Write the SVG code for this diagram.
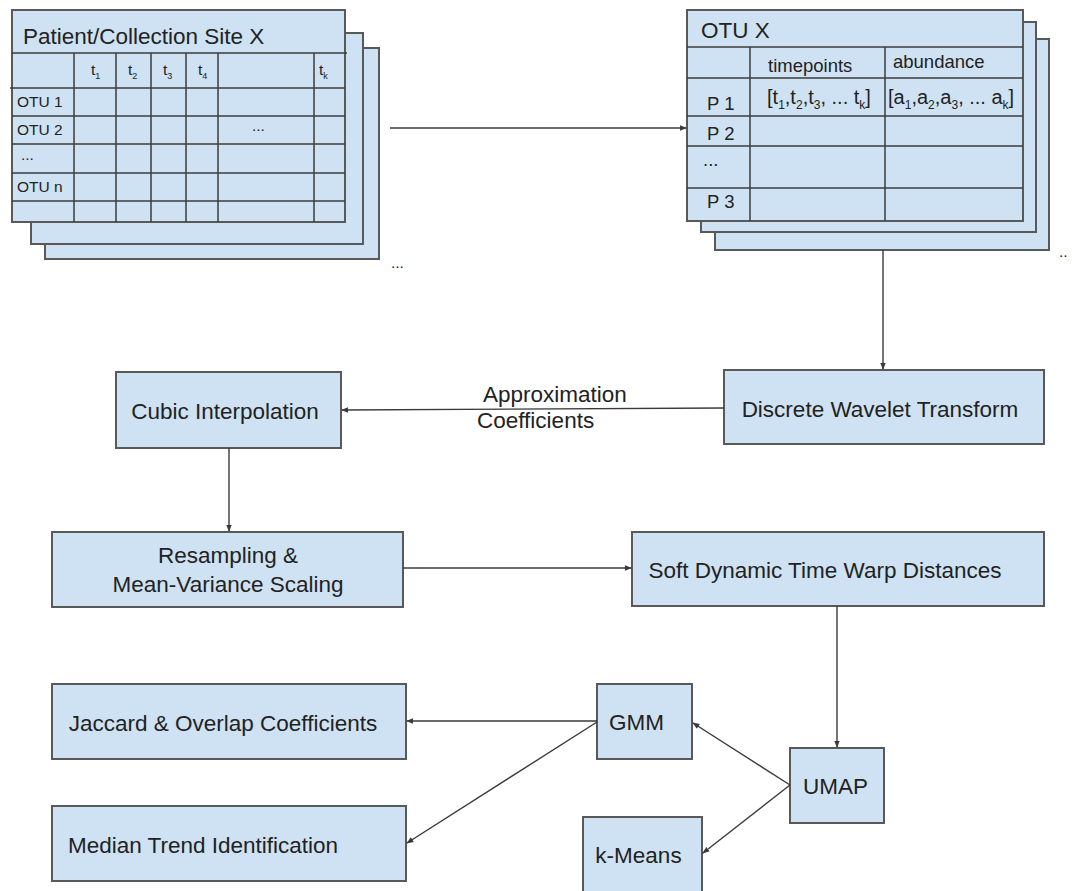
<svg xmlns="http://www.w3.org/2000/svg" width="1073" height="891" viewBox="0 0 1073 891">
  <style>
    .box { fill: #cfe2f3; stroke: #595959; stroke-width: 2; }
    .grid { stroke: #3c3c3c; stroke-width: 1.5; fill: none; }
    .lbl { font-family: "Liberation Sans", Arial, sans-serif; font-size: 22.5px; fill: #222; }
    .cell { font-family: "Liberation Sans", Arial, sans-serif; font-size: 15.5px; fill: #222; }
    .cell2 { font-family: "Liberation Sans", Arial, sans-serif; font-size: 18.5px; fill: #222; }
    .seq { font-family: "Liberation Sans", Arial, sans-serif; font-size: 20px; fill: #222; }
    .sub { font-size: 9px; }
    .sub2 { font-size: 12px; }
    .mid { text-anchor: middle; }
    .edge { stroke: #3a3a3a; stroke-width: 1.4; fill: none; marker-end: url(#arrow); }
  </style>
  <defs>
    <marker id="arrow" viewBox="0 0 10 10" refX="9" refY="5" markerWidth="7" markerHeight="7" markerUnits="userSpaceOnUse" orient="auto">
      <path d="M0,1 L10,5 L0,9 z" fill="#3a3a3a"/>
    </marker>
  </defs>
  <rect width="1073" height="891" fill="#ffffff"/>

  <!-- Patient / collection site table stack -->
  <g id="site-table">
    <rect class="box" x="45" y="48" width="334" height="211"/>
    <rect class="box" x="31" y="33" width="332" height="211"/>
    <rect class="box" x="12" y="10" width="333" height="212"/>
    <text class="lbl" x="23" y="44">Patient/Collection Site X</text>
    <path class="grid" d="M12,53 H347 M10,88 H345 M12,116 H345 M12,144 H345 M12,173 H345 M12,201 H345"/>
    <path class="grid" d="M74,53 V222 M116,53 V222 M151,53 V222 M186,53 V222 M218,53 V222 M314,53 V222"/>
    <text class="cell" x="91" y="75">t<tspan class="sub" dy="4">1</tspan></text>
    <text class="cell" x="128" y="75">t<tspan class="sub" dy="4">2</tspan></text>
    <text class="cell" x="163" y="75">t<tspan class="sub" dy="4">3</tspan></text>
    <text class="cell" x="198" y="75">t<tspan class="sub" dy="4">4</tspan></text>
    <text class="cell" x="319" y="75">t<tspan class="sub" dy="4">k</tspan></text>
    <text class="cell" x="17" y="107">OTU 1</text>
    <text class="cell" x="17" y="135">OTU 2</text>
    <text class="cell" x="21" y="160">...</text>
    <text class="cell" x="17" y="192">OTU n</text>
    <text class="cell" x="252" y="131">...</text>
  </g>
  <text class="cell" x="391" y="268">...</text>

  <!-- Per-OTU table stack -->
  <g id="otu-table">
    <rect class="box" x="715" y="39" width="334" height="211"/>
    <rect class="box" x="701" y="22" width="335" height="210"/>
    <rect class="box" x="687" y="10" width="336" height="211"/>
    <text class="lbl" x="701" y="38">OTU X</text>
    <path class="grid" d="M687,47 H1023 M687,78 H1023 M687,116 H1023 M687,146 H1023 M687,188 H1023"/>
    <path class="grid" d="M750,47 V221 M885,47 V221"/>
    <text class="cell2" x="768" y="72">timepoints</text>
    <text class="cell2" x="893" y="68">abundance</text>
    <text class="cell2" x="707" y="110">P 1</text>
    <text class="cell2" x="707" y="140">P 2</text>
    <text class="cell2" x="703" y="166">...</text>
    <text class="cell2" x="707" y="208">P 3</text>
    <text class="seq" x="767" y="104">[t<tspan class="sub2" dy="5">1</tspan><tspan dy="-5">,t</tspan><tspan class="sub2" dy="5">2</tspan><tspan dy="-5">,t</tspan><tspan class="sub2" dy="5">3</tspan><tspan dy="-5">, ... t</tspan><tspan class="sub2" dy="5">k</tspan><tspan dy="-5">]</tspan></text>
    <text class="seq" x="888" y="104">[a<tspan class="sub2" dy="5">1</tspan><tspan dy="-5">,a</tspan><tspan class="sub2" dy="5">2</tspan><tspan dy="-5">,a</tspan><tspan class="sub2" dy="5">3</tspan><tspan dy="-5">, ... a</tspan><tspan class="sub2" dy="5">k</tspan><tspan dy="-5">]</tspan></text>
  </g>
  <text class="cell" x="1059" y="257">..</text>

  <!-- Processing steps -->
  <g id="cubic">
    <rect class="box" x="116" y="372" width="225" height="76"/>
    <text class="lbl mid" x="225" y="419">Cubic Interpolation</text>
  </g>
  <g id="dwt">
    <rect class="box" x="724" y="370" width="320" height="74"/>
    <text class="lbl mid" x="880" y="417">Discrete Wavelet Transform</text>
  </g>
  <g id="resampling">
    <rect class="box" x="52" y="532" width="351" height="75"/>
    <text class="lbl mid" x="228" y="563">Resampling &amp;</text>
    <text class="lbl mid" x="228" y="592">Mean-Variance Scaling</text>
  </g>
  <g id="softdtw">
    <rect class="box" x="632" y="532" width="412" height="74"/>
    <text class="lbl mid" x="825" y="578">Soft Dynamic Time Warp Distances</text>
  </g>
  <g id="jaccard">
    <rect class="box" x="52" y="684" width="354" height="75"/>
    <text class="lbl mid" x="223" y="731">Jaccard &amp; Overlap Coefficients</text>
  </g>
  <g id="median">
    <rect class="box" x="52" y="806" width="354" height="75"/>
    <text class="lbl mid" x="203" y="853">Median Trend Identification</text>
  </g>
  <g id="gmm">
    <rect class="box" x="597" y="684" width="95" height="75"/>
    <text class="lbl mid" x="636.5" y="730">GMM</text>
  </g>
  <g id="umap">
    <rect class="box" x="790" y="748" width="94" height="75"/>
    <text class="lbl mid" x="835.5" y="794">UMAP</text>
  </g>
  <g id="kmeans">
    <rect class="box" x="583" y="817" width="119" height="90"/>
    <text class="lbl mid" x="638.5" y="863">k-Means</text>
  </g>

  <!-- Connectors -->
  <g id="connectors">
    <line class="edge" x1="390" y1="128" x2="686" y2="128"/>
    <line class="edge" x1="883" y1="250" x2="883" y2="369"/>
    <line class="edge" x1="724" y1="408" x2="342" y2="410"/>
    <line class="edge" x1="229" y1="448" x2="229" y2="531"/>
    <line class="edge" x1="403" y1="568" x2="631" y2="568"/>
    <line class="edge" x1="837" y1="606" x2="837" y2="747"/>
    <line class="edge" x1="790" y1="785" x2="693" y2="723"/>
    <line class="edge" x1="790" y1="785" x2="703" y2="853"/>
    <line class="edge" x1="597" y1="721" x2="407" y2="721"/>
    <line class="edge" x1="597" y1="722" x2="407" y2="843"/>
    <text class="lbl" x="483" y="402">Approximation</text>
    <text class="lbl" x="477" y="428">Coefficients</text>
  </g>
</svg>
